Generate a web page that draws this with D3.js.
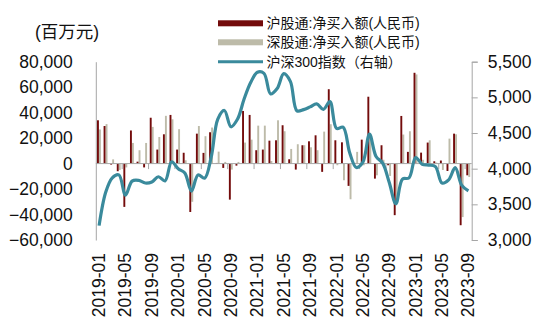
<!DOCTYPE html>
<html><head><meta charset="utf-8">
<script src="https://cdn.jsdelivr.net/npm/d3@7"></script>
<style>
html,body{margin:0;padding:0;background:#fff;}
svg{display:block;font-family:"Liberation Sans",Arial,"Noto Sans CJK SC",sans-serif;}
</style></head>
<body>
<svg id="c" width="550" height="328"></svg>
<script>
const months = [
"2019-01","2019-02","2019-03","2019-04","2019-05","2019-06","2019-07","2019-08","2019-09","2019-10","2019-11","2019-12",
"2020-01","2020-02","2020-03","2020-04","2020-05","2020-06","2020-07","2020-08","2020-09","2020-10","2020-11","2020-12",
"2021-01","2021-02","2021-03","2021-04","2021-05","2021-06","2021-07","2021-08","2021-09","2021-10","2021-11","2021-12",
"2022-01","2022-02","2022-03","2022-04","2022-05","2022-06","2022-07","2022-08","2022-09","2022-10","2022-11","2022-12",
"2023-01","2023-02","2023-03","2023-04","2023-05","2023-06","2023-07","2023-08","2023-09"];
const shConnect = [34000,29500,-800,-6000,-34000,26000,1500,-3000,36000,11000,23000,38200,
11000,8500,-38000,23500,8400,24600,500,-3400,-28300,-1600,41300,38200,
10500,11000,18000,18300,30100,3400,-4700,14400,17500,22200,-6500,58400,
18300,16700,-17500,500,18800,52500,-11800,14400,-1300,-40500,37400,9200,
71300,8600,16500,1800,2400,-5800,23500,-48400,-9200];
const szConnect = [26800,31000,3300,-5000,-3000,16200,10500,16200,28800,20900,37500,34800,
27000,2600,-30000,29500,21500,28300,9400,1300,-4700,1300,16500,18800,
29800,29800,2000,34000,25400,11500,15200,14400,12800,10500,25100,30900,
-1300,-13100,-28000,9200,-1300,21000,-9200,3000,-9700,-30000,22800,25400,
70000,3000,18300,800,-5000,19600,23000,-42000,-10500];
const csi300 = [3201.6,3669.4,3872.3,3913.2,3629.8,3825.6,3835.4,3799.6,3814.5,3886.8,3828.7,4096.6,
3999.4,3940.1,3686.2,3912.6,3867.0,4163.9,4695.1,4816.2,4587.4,4695.3,4980.8,5211.3,
5352.0,5336.8,5048.3,5123.5,5331.9,5224.0,4811.2,4827.6,4866.4,4908.8,4832.0,4940.4,
4563.8,4581.6,4222.6,4016.2,4090.8,4485.0,4170.1,4078.8,3804.9,3508.7,3853.0,3871.6,
4156.6,4061.1,4050.9,4029.1,3798.6,3842.5,4014.6,3765.3,3689.5];
const leftTicks = [-60000,-40000,-20000,0,20000,40000,60000,80000];
const rightTicks = [3000,3500,4000,4500,5000,5500];
const seriesNames = ["沪股通:净买入额(人民币)","深股通:净买入额(人民币)","沪深300指数（右轴）"];
const unitLabel = "(百万元)";

const colRed = "#730b0b", colGrey = "#bdbba9", colLine = "#3a8a9c", axisCol = "#a6a6a6", txtCol = "#111";
const svg = d3.select("#c");
const x = d3.scaleBand().domain(months).range([95.8, 471.7]).padding(0);
const yL = d3.scaleLinear().domain([-60000, 80000]).range([240, 61.7]);
const yR = d3.scaleLinear().domain([3000, 5500]).range([240, 61.7]);
const fmt = d3.format(",");
const cx = m => x(m) + x.bandwidth()/2;

// bars
const g = svg.append("g");
g.selectAll("rect.sz").data(months).join("rect")
  .attr("x", (m)=>cx(m)-0.1).attr("width", 1.9)
  .attr("y", (m,i)=>yL(Math.max(0, szConnect[i])))
  .attr("height", (m,i)=>Math.abs(yL(szConnect[i]) - yL(0)))
  .attr("fill", colGrey);
g.selectAll("rect.sh").data(months).join("rect")
  .attr("x", (m)=>cx(m)-2.1).attr("width", 1.9)
  .attr("y", (m,i)=>yL(Math.max(0, shConnect[i])))
  .attr("height", (m,i)=>Math.abs(yL(shConnect[i]) - yL(0)))
  .attr("fill", colRed);

// baseline + category ticks
svg.append("line").attr("x1", x.range()[0]).attr("x2", x.range()[1])
  .attr("y1", yL(0)).attr("y2", yL(0)).attr("stroke", axisCol).attr("stroke-width", 1);
const labMonths = months.filter((m,i)=>i%4===0);
svg.selectAll("line.xt").data(labMonths.slice(1)).join("line")
  .attr("x1", m=>x(m)).attr("x2", m=>x(m))
  .attr("y1", yL(0)).attr("y2", yL(0)+5.5).attr("stroke", axisCol);

// left axis
const gl = svg.append("g").attr("transform", `translate(${x.range()[0]},0)`)
  .call(d3.axisLeft(yL).tickValues(leftTicks).tickFormat(fmt).tickSize(0).tickPadding(23));
gl.select(".domain").attr("stroke", axisCol);
gl.selectAll("text").attr("font-size", "17.5px").attr("fill", txtCol).attr("font-family", null);

// right axis
const gr = svg.append("g").attr("transform", `translate(${x.range()[1]},0)`)
  .call(d3.axisRight(yR).tickValues(rightTicks).tickFormat(fmt).tickSize(6).tickSizeOuter(6).tickPadding(10));
gr.select(".domain").attr("stroke", axisCol);
gr.selectAll("line").attr("stroke", axisCol);
gr.selectAll("text").attr("font-size", "17.5px").attr("fill", txtCol).attr("font-family", null);

// x labels
svg.selectAll("text.xl").data(labMonths).join("text")
  .attr("transform", m=>`translate(${cx(m)+6},253) rotate(-90)`)
  .attr("text-anchor", "end").attr("font-size", "17.5px").attr("fill", txtCol)
  .text(m=>m);

// line
const line = d3.line().x((d,i)=>cx(months[i])).y(d=>yR(d)).curve(d3.curveCatmullRom.alpha(0.5));
svg.append("path").datum(csi300).attr("d", line).attr("fill", "none")
  .attr("stroke", colLine).attr("stroke-width", 3.2).attr("stroke-linejoin", "round");

// unit label
svg.append("text").attr("x", 35).attr("y", 32).attr("dominant-baseline", "central")
  .attr("font-size", "17.5px").attr("fill", txtCol).text(unitLabel);

// legend
const lg = svg.append("g");
const ly = [23.3, 42.3, 61.7];
lg.append("rect").attr("x", 218).attr("y", ly[0]-3).attr("width", 45).attr("height", 6).attr("fill", colRed);
lg.append("rect").attr("x", 218).attr("y", ly[1]-3).attr("width", 45).attr("height", 6).attr("fill", colGrey);
lg.append("line").attr("x1", 218).attr("x2", 263).attr("y1", ly[2]).attr("y2", ly[2]).attr("stroke", colLine).attr("stroke-width", 3);
lg.selectAll("text").data(seriesNames).join("text")
  .attr("x", 266.5).attr("y", (d,i)=>ly[i]).attr("dominant-baseline", "central")
  .attr("font-size", "14px").attr("fill", txtCol).text(d=>d);
</script>
</body></html>
